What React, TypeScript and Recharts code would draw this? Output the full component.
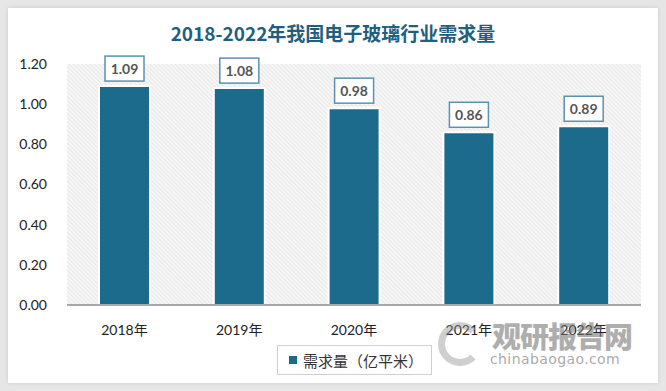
import { BarChart, Bar, XAxis, YAxis, CartesianGrid, LabelList } from 'recharts'

const years = ['2018年', '2019年', '2020年', '2021年', '2022年']
const demand = [1.09, 1.08, 0.98, 0.86, 0.89]
const yTicks = [0, 0.2, 0.4, 0.6, 0.8, 1.0, 1.2]

const data = years.map((year, i) => ({ year, demand: demand[i] }))

const BAR = '#1c6a8c'
const FONT = "Lato, 'Noto Sans CJK SC', sans-serif"

function ValueBox(props: any) {
  const { x, y, width, value } = props
  const w = 39
  const h = 25
  const cx = x + width / 2
  return (
    <g>
      <rect x={cx - w / 2} y={y - 5 - h} width={w} height={h} fill="#fff" stroke="#5a93b2" strokeWidth={1.5} />
      <text x={cx} y={y - 5 - h / 2} dy={5} textAnchor="middle" fontSize={14} fontWeight={700} fill="#555" fontFamily={FONT}>
        {Number(value).toFixed(2)}
      </text>
    </g>
  )
}

export default function App() {
  return (
    <div style={{ position: 'absolute', left: 0, top: 0, width: 666, height: 391, background: '#e6e6e6', fontFamily: FONT }}>
      <svg width={0} height={0} style={{ position: 'absolute' }}>
        <defs>
          <pattern id="hatch" width={3} height={3} patternUnits="userSpaceOnUse" patternTransform="rotate(-45)">
            <rect width={3} height={3} fill="#f6f6f6" />
            <line x1={0} y1={0} x2={0} y2={3} stroke="#dcdcdc" strokeWidth={1} />
          </pattern>
        </defs>
      </svg>
      <div style={{ position: 'absolute', left: 8, top: 8, width: 650, height: 375, background: '#fff', boxShadow: '0 0 4px rgba(0,0,0,0.12)' }} />
      <div style={{ position: 'absolute', left: 0, top: 20, width: 666, textAlign: 'center', fontSize: 19, fontWeight: 700, color: '#1f6080', fontFamily: "'Noto Sans CJK SC', sans-serif", lineHeight: '26px' }}>
        2018-2022年我国电子玻璃行业需求量
      </div>
      <div style={{ position: 'absolute', left: 0, top: 0 }}>
        <BarChart width={666} height={391} data={data} margin={{ top: 64, right: 25, bottom: 56, left: 0 }}>
          <CartesianGrid horizontal={false} vertical={false} fill="url(#hatch)" />
          <XAxis
            dataKey="year"
            tickLine={false}
            axisLine={{ stroke: '#8c8c8c', strokeWidth: 1.5 }}
            tick={{ fill: '#222', fontSize: 14, fontFamily: FONT }}
            tickMargin={14}
          />
          <YAxis
            width={67}
            domain={[0, 1.2]}
            ticks={yTicks}
            axisLine={false}
            tickLine={false}
            tickMargin={14}
            tickFormatter={(v: number) => v.toFixed(2)}
            tick={{ fill: '#222', fontSize: 14, fontFamily: FONT }}
          />
          <Bar dataKey="demand" fill={BAR} stroke="#fff" strokeWidth={2} barSize={51} isAnimationActive={false}>
            <LabelList dataKey="demand" content={ValueBox} />
          </Bar>
        </BarChart>
      </div>
      <div style={{ position: 'absolute', left: 277, top: 345, width: 155, height: 30, boxSizing: 'border-box', border: '1px solid #cfcfcf', background: '#fff', display: 'flex', alignItems: 'center' }}>
        <span style={{ display: 'inline-block', width: 8, height: 8, background: BAR, marginLeft: 11, marginRight: 6 }} />
        <span style={{ fontSize: 15, color: '#333', fontFamily: "'Noto Sans CJK SC', sans-serif" }}>需求量（亿平米）</span>
      </div>
      <div style={{ position: 'absolute', left: 438, top: 322, width: 44, height: 44, borderRadius: '50%', border: '7px solid rgba(150,150,150,0.45)', borderRightColor: 'transparent', boxSizing: 'border-box', pointerEvents: 'none' }} />
      <div style={{ position: 'absolute', left: 492, top: 316, fontSize: 29, fontWeight: 900, color: 'rgba(120,120,120,0.6)', fontFamily: "'Noto Sans CJK SC', sans-serif", lineHeight: '38px', letterSpacing: -1, pointerEvents: 'none' }}>
        观研报告网
      </div>
      <div style={{ position: 'absolute', left: 490, top: 350, fontSize: 14, color: 'rgba(120,120,120,0.65)', fontFamily: "'DejaVu Sans', sans-serif", lineHeight: '18px', letterSpacing: 0.4, pointerEvents: 'none' }}>
        chinabaogao.com
      </div>
    </div>
  )
}
